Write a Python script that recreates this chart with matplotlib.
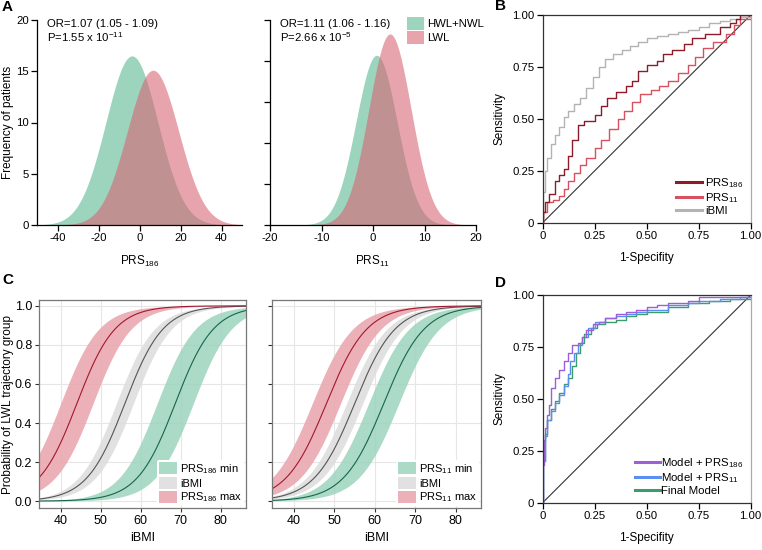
import numpy as np
import matplotlib
matplotlib.use("Agg")
import matplotlib.pyplot as plt
from matplotlib.patches import Patch
from matplotlib.lines import Line2D

plt.rcParams['font.family'] = ['Liberation Sans', 'DejaVu Sans']
plt.rcParams['font.size'] = 8.2
plt.rcParams['axes.unicode_minus'] = False
plt.rcParams['mathtext.fontset'] = 'custom'
plt.rcParams['mathtext.rm'] = 'Liberation Sans'
plt.rcParams['mathtext.it'] = 'Liberation Sans'

# ---------------- data ----------------
# Panel A: fitted normal densities (mean, sd, peak height)
prs186_groups = ["HWL+NWL", "LWL"]
prs186_mean = [-3.7, 6.6]
prs186_sd = [12.7, 12.5]
prs186_peak = [16.5, 15.1]
prs11_mean = [0.7, 3.3]
prs11_sd = [4.0, 4.1]
prs11_peak = [20.7, 23.3]
prs186_stats = ["OR=1.07 (1.05 - 1.09)", "P=1.55 x 10$^{-11}$"]
prs11_stats = ["OR=1.11 (1.06 - 1.16)", "P=2.66 x 10$^{-5}$"]

# Panel B: ROC curves
b_prs186_fpr = [0, 0, 0.01, 0.03, 0.06, 0.08, 0.10, 0.12, 0.14, 0.17, 0.20, 0.25, 0.28, 0.31, 0.35, 0.40, 0.43,
                0.46, 0.50, 0.55, 0.58, 0.62, 0.68, 0.72, 0.78, 0.85, 0.90, 0.93, 0.95, 1.0]
b_prs186_tpr = [0, 0.05, 0.10, 0.14, 0.20, 0.23, 0.26, 0.32, 0.40, 0.47, 0.49, 0.52, 0.56, 0.60, 0.63, 0.66, 0.68,
                0.73, 0.76, 0.78, 0.81, 0.83, 0.86, 0.89, 0.91, 0.94, 0.96, 0.98, 1.0, 1.0]
b_prs11_fpr = [0, 0, 0.02, 0.05, 0.08, 0.10, 0.12, 0.15, 0.18, 0.21, 0.25, 0.28, 0.32, 0.36, 0.39, 0.43, 0.47,
               0.52, 0.56, 0.60, 0.65, 0.70, 0.73, 0.77, 0.82, 0.88, 0.92, 0.95, 1.0]
b_prs11_tpr = [0, 0.05, 0.10, 0.11, 0.13, 0.16, 0.20, 0.24, 0.28, 0.31, 0.36, 0.40, 0.45, 0.50, 0.54, 0.58, 0.62,
               0.64, 0.66, 0.68, 0.72, 0.76, 0.80, 0.84, 0.87, 0.91, 0.95, 0.98, 1.0]
b_ibmi_fpr = [0, 0, 0.01, 0.02, 0.04, 0.06, 0.08, 0.10, 0.12, 0.15, 0.18, 0.21, 0.24, 0.27, 0.30, 0.34, 0.38,
              0.42, 0.46, 0.50, 0.55, 0.60, 0.65, 0.70, 0.75, 0.80, 0.85, 0.90, 0.95, 1.0]
b_ibmi_tpr = [0, 0.15, 0.25, 0.31, 0.38, 0.42, 0.46, 0.51, 0.54, 0.57, 0.60, 0.65, 0.70, 0.75, 0.79, 0.81, 0.83,
              0.85, 0.87, 0.89, 0.90, 0.91, 0.92, 0.93, 0.94, 0.96, 0.97, 0.98, 0.99, 1.0]

# Panel C: logistic fits (midpoint, slope, CI half-width in logit units)
c_labels_186 = ["PRS$_{186}$ min", "iBMI", "PRS$_{186}$ max"]
c_labels_11 = ["PRS$_{11}$ min", "iBMI", "PRS$_{11}$ max"]
c186_mid = [68.6, 56.0, 44.0]
c186_slope = [0.21, 0.21, 0.21]
c186_ci = [0.95, 0.45, 0.85]
c11_mid = [62.2, 55.0, 48.0]
c11_slope = [0.20, 0.20, 0.20]
c11_ci = [0.75, 0.40, 0.70]
ibmi_range = [34.6, 86.3]

# Panel D: ROC curves
d_p186_fpr = [0, 0, 0.005, 0.01, 0.02, 0.03, 0.04, 0.06, 0.08, 0.10, 0.12, 0.14, 0.17, 0.19, 0.21, 0.24, 0.27,
              0.30, 0.35, 0.40, 0.45, 0.50, 0.55, 0.60, 0.70, 0.75, 0.85, 1.0]
d_p186_tpr = [0, 0.18, 0.30, 0.36, 0.42, 0.47, 0.55, 0.60, 0.64, 0.68, 0.72, 0.76, 0.77, 0.80, 0.83, 0.86, 0.87,
              0.89, 0.91, 0.92, 0.93, 0.94, 0.95, 0.96, 0.97, 0.99, 0.99, 1.0]
d_p11_fpr = [0, 0, 0.01, 0.02, 0.04, 0.06, 0.08, 0.10, 0.12, 0.13, 0.15, 0.17, 0.19, 0.22, 0.25, 0.30, 0.35,
             0.40, 0.45, 0.50, 0.60, 0.70, 0.75, 0.85, 0.95, 1.0]
d_p11_tpr = [0, 0.20, 0.32, 0.40, 0.44, 0.48, 0.52, 0.56, 0.62, 0.68, 0.72, 0.76, 0.80, 0.84, 0.87, 0.89, 0.90,
             0.91, 0.92, 0.93, 0.95, 0.96, 0.97, 0.98, 0.99, 1.0]
d_fin_fpr = [0, 0, 0.01, 0.02, 0.04, 0.06, 0.08, 0.10, 0.12, 0.14, 0.16, 0.18, 0.20, 0.23, 0.26, 0.30, 0.35,
             0.40, 0.45, 0.50, 0.60, 0.70, 0.80, 0.90, 1.0]
d_fin_tpr = [0, 0.20, 0.33, 0.40, 0.45, 0.49, 0.53, 0.57, 0.60, 0.66, 0.72, 0.77, 0.81, 0.84, 0.86, 0.87, 0.88,
             0.90, 0.91, 0.92, 0.94, 0.96, 0.97, 0.98, 1.0]

GREEN = '#9cd4be'
PINK = '#d96270'
PINK_A = 0.58
GRAY_BAND = '#dcdcdc'
PINK_BAND = '#e9a4ac'
FS = 8.2

W, H = 762, 550
fig = plt.figure(figsize=(W / 100, H / 100), dpi=100)


def add_ax(l, t, r, b):
    return fig.add_axes([l / W, (H - b) / H, (r - l) / W, (b - t) / H])


def style_open(ax):
    for s in ['top', 'right']:
        ax.spines[s].set_visible(False)
    for s in ['left', 'bottom']:
        ax.spines[s].set_linewidth(0.9)
    ax.tick_params(length=4, width=0.9, labelsize=FS, pad=2)


# ---------------- Panel A ----------------
axA1 = add_ax(37, 20, 242, 225)
x = np.linspace(-50, 50, 600)
for m, s, p, c, a in zip(prs186_mean, prs186_sd, prs186_peak, [GREEN, PINK], [1.0, PINK_A]):
    axA1.fill_between(x, p * np.exp(-0.5 * ((x - m) / s) ** 2), color=c, alpha=a, lw=0)
axA1.set_xlim(-50, 50)
axA1.set_ylim(0, 20)
axA1.set_xticks([-40, -20, 0, 20, 40])
axA1.set_yticks([0, 5, 10, 15, 20])
style_open(axA1)
axA1.set_xlabel("PRS$_{186}$", fontsize=FS + 0.3)
axA1.xaxis.set_label_coords(0.5, -0.141)
axA1.set_ylabel("Frequency of patients", fontsize=FS + 0.3)
axA1.yaxis.set_label_coords(-0.112, 0.5)
axA1.text(0.047, 0.98, prs186_stats[0], transform=axA1.transAxes, fontsize=FS, va='center')
axA1.text(0.047, 0.915, prs186_stats[1], transform=axA1.transAxes, fontsize=FS, va='center')

axA2 = add_ax(270, 20, 476, 225)
x = np.linspace(-20, 20, 600)
for m, s, p, c, a in zip(prs11_mean, prs11_sd, prs11_peak, [GREEN, PINK], [1.0, PINK_A]):
    axA2.fill_between(x, p * np.exp(-0.5 * ((x - m) / s) ** 2), color=c, alpha=a, lw=0)
axA2.set_xlim(-20, 20)
axA2.set_ylim(0, 25)
axA2.set_xticks([-20, -10, 0, 10, 20])
axA2.set_yticks([0, 5, 10, 15, 20, 25])
axA2.set_yticklabels([])
style_open(axA2)
axA2.set_xlabel("PRS$_{11}$", fontsize=FS + 0.3)
axA2.xaxis.set_label_coords(0.5, -0.141)
axA2.text(0.047, 0.98, prs11_stats[0], transform=axA2.transAxes, fontsize=FS, va='center')
axA2.text(0.047, 0.915, prs11_stats[1], transform=axA2.transAxes, fontsize=FS, va='center')
axA2.legend(handles=[Patch(color=GREEN, lw=0), Patch(facecolor=PINK, alpha=PINK_A, lw=0)],
            labels=prs186_groups, loc='upper left', bbox_to_anchor=(0.665, 1.015), frameon=False,
            fontsize=FS, handlelength=1.5, handleheight=1.35, handletextpad=0.25, labelspacing=0.1,
            borderaxespad=0, borderpad=0)


# ---------------- ROC panels ----------------
def roc_axes(ax):
    ax.set_xlim(0, 1)
    ax.set_ylim(0, 1)
    ticks = [0, 0.25, 0.5, 0.75, 1.0]
    lbl = ["0", "0.25", "0.50", "0.75", "1.00"]
    ax.set_xticks(ticks)
    ax.set_xticklabels(lbl)
    ax.set_yticks(ticks)
    ax.set_yticklabels(lbl)
    ax.spines['right'].set_color('#aaaaaa')
    ax.spines['right'].set_linewidth(0.9)
    for s in ['left', 'bottom', 'top']:
        ax.spines[s].set_linewidth(0.9)
        ax.spines[s].set_color('#333333')
    ax.tick_params(length=4, width=0.9, labelsize=FS, pad=2)
    ax.plot([0, 1], [0, 1], color='#333333', lw=0.8)
    ax.set_xlabel("1-Specifity", fontsize=FS + 0.3)
    ax.xaxis.set_label_coords(0.5, -0.141)
    ax.set_ylabel("Sensitivity", fontsize=FS + 0.3)
    ax.yaxis.set_label_coords(-0.181, 0.5)


axB = add_ax(542.7, 15, 750.7, 222.7)
roc_axes(axB)
colB = ['#8e1b2a', '#d9505f', '#b3b3b3']
axB.plot(b_ibmi_fpr, b_ibmi_tpr, drawstyle='steps-post', color=colB[2], lw=1.0)
axB.plot(b_prs11_fpr, b_prs11_tpr, drawstyle='steps-post', color=colB[1], lw=1.0)
axB.plot(b_prs186_fpr, b_prs186_tpr, drawstyle='steps-post', color=colB[0], lw=1.0)
axB.legend(handles=[Line2D([], [], color=c, lw=2.2) for c in colB],
           labels=["PRS$_{186}$", "PRS$_{11}$", "iBMI"], loc='lower right', frameon=False,
           fontsize=FS, handlelength=2.3, handletextpad=0.3, labelspacing=0.1, borderaxespad=0.2)

axD = add_ax(542.7, 295, 750.7, 502.7)
roc_axes(axD)
colD = ['#9b5fd6', '#5b8ef0', '#3c9d6c']
axD.plot(d_fin_fpr, d_fin_tpr, drawstyle='steps-post', color=colD[2], lw=1.0)
axD.plot(d_p11_fpr, d_p11_tpr, drawstyle='steps-post', color=colD[1], lw=1.0)
axD.plot(d_p186_fpr, d_p186_tpr, drawstyle='steps-post', color=colD[0], lw=1.0)
axD.legend(handles=[Line2D([], [], color=c, lw=2.2) for c in colD],
           labels=["Model + PRS$_{186}$", "Model + PRS$_{11}$", "Final Model"], loc='lower right',
           frameon=False, fontsize=FS, handlelength=2.2, handletextpad=0.1, labelspacing=0.1,
           borderaxespad=0.2)


# ---------------- Panel C ----------------
def logistic_panel(ax, mids, slopes, cis, labels, ylabel):
    xx = np.linspace(ibmi_range[0], ibmi_range[1], 400)
    band_cols = [GREEN, GRAY_BAND, PINK_BAND]
    line_cols = ['#17654a', '#555555', '#a3172d']
    for m, k, w, bc, lc in zip(mids, slopes, cis, band_cols, line_cols):
        z = k * (xx - m)
        ax.fill_between(xx, 1 / (1 + np.exp(-(z - w))), 1 / (1 + np.exp(-(z + w))),
                        color=bc, alpha=0.85, lw=0)
        ax.plot(xx, 1 / (1 + np.exp(-z)), color=lc, lw=0.8)
    ax.set_xlim(ibmi_range)
    ax.set_ylim(-0.035, 1.03)
    ax.set_xticks([40, 50, 60, 70, 80])
    ax.set_yticks([0, 0.2, 0.4, 0.6, 0.8, 1.0])
    ax.grid(True, color='#e6e6e6', lw=0.8)
    ax.set_axisbelow(True)
    for s in ax.spines.values():
        s.set_color('#777777')
        s.set_linewidth(0.9)
    ax.tick_params(length=3, width=0.8, color='#333333', labelsize=9, pad=2)
    ax.set_xlabel("iBMI", fontsize=9)
    ax.xaxis.set_label_coords(0.5, -0.113)
    if ylabel:
        ax.set_yticklabels(["0.0", "0.2", "0.4", "0.6", "0.8", "1.0"])
        ax.set_ylabel("Probability of LWL trajectory group", fontsize=8.5)
        ax.yaxis.set_label_coords(-0.12, 0.5)
    else:
        ax.set_yticklabels([])
    handles = [Patch(facecolor=c, alpha=0.85, lw=0) for c in band_cols]
    leg = ax.legend(handles=handles, labels=labels, loc='lower right', frameon=True, fontsize=8,
                    handlelength=1.6, handleheight=1.3, handletextpad=0.3, labelspacing=0.12,
                    borderaxespad=0.15, borderpad=0.2)
    leg.get_frame().set_edgecolor('none')
    leg.get_frame().set_facecolor('white')
    leg.get_frame().set_alpha(1)


axC1 = add_ax(39.3, 300, 246, 508)
logistic_panel(axC1, c186_mid, c186_slope, c186_ci, c_labels_186, True)
axC2 = add_ax(272.3, 300, 481, 508)
logistic_panel(axC2, c11_mid, c11_slope, c11_ci, c_labels_11, False)

# panel letters
for lab, px, py in [("A", 2, 7), ("B", 495, 6), ("C", 2, 280), ("D", 495, 283)]:
    fig.text(px / W, 1 - py / H, lab, fontsize=11, fontweight='bold', va='center', ha='left')

fig.savefig("out.png", dpi=100)
